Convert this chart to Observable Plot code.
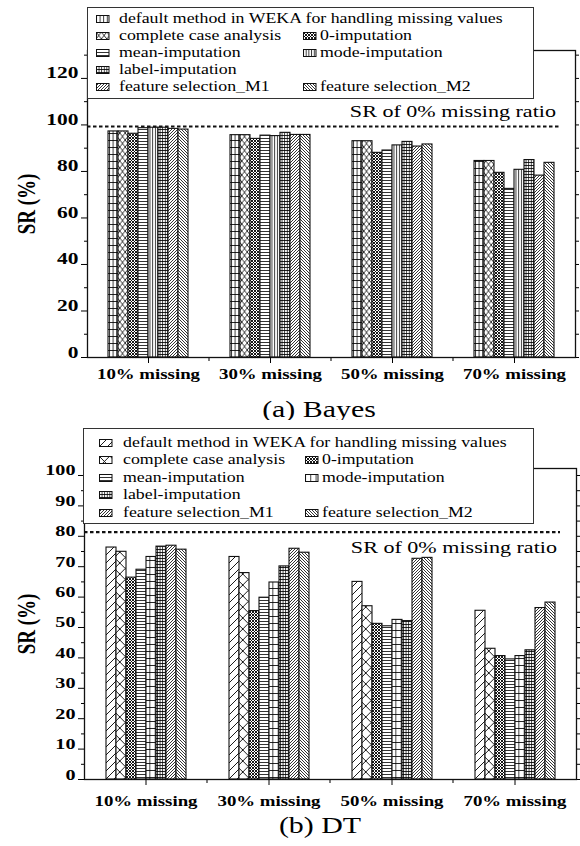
<!DOCTYPE html>
<html>
<head>
<meta charset="utf-8">
<script src="https://cdn.jsdelivr.net/npm/d3@7"></script>
<script src="https://cdn.jsdelivr.net/npm/@observablehq/plot@0.6"></script>
<style>
  body { margin: 0; background: #fff; }
  #page { position: relative; width: 580px; height: 846px; background: #fff; overflow: hidden;
          font-family: "Liberation Serif", "Times New Roman", serif; color: #000; }
  #page svg text { font-family: "Liberation Serif", "Times New Roman", serif; }
  .chart { position: absolute; left: 0; }
  .legend { position: absolute; background: #fff; border: 1.3px solid #333; box-sizing: border-box;
            font-size: 13.7px; line-height: 17.2px; }
  .legend .item { position: absolute; white-space: nowrap; transform: scaleX(1.3); transform-origin: 0 50%; }
  .legend svg { position: absolute; }
  .caption { position: absolute; font-size: 23px; line-height: 26px; white-space: nowrap;
             transform: translateX(-50%) scaleX(1.3); }
</style>
</head>
<body>
<div id="page">
  <svg id="patterns" width="0" height="0" style="position:absolute"><defs></defs></svg>
  <div id="bayes" class="chart" style="top:0px"></div>
  <div id="bayes-legend" class="legend" style="left:87px;top:7px;width:447px;height:92px"></div>
  <div class="caption" style="left:319px;top:397px">(a) Bayes</div>
  <div id="dt" class="chart" style="top:420px"></div>
  <div id="dt-legend" class="legend" style="left:83px;top:428px;width:451px;height:96px"></div>
  <div class="caption" style="left:320px;top:813px">(b) DT</div>
</div>
<script>
// Missing-value ratios (groups on the x axis)
const categories = ["10% missing", "30% missing", "50% missing", "70% missing"];

// Methods compared in every group (bar order)
const methods = [
  "default method in WEKA for handling missing values",
  "complete case analysis",
  "0-imputation",
  "mean-imputation",
  "mode-imputation",
  "label-imputation",
  "feature selection_M1",
  "feature selection_M2"
];

// SR (%) with the Bayes classifier, one row per missing ratio, in method order
const bayesSR = [
  [97.2, 97.2, 96.2, 98.6, 98.8, 98.8, 98.3, 98.0],
  [95.6, 95.6, 94.0, 95.4, 95.2, 96.6, 95.7, 95.7],
  [93.0, 93.0, 88.0, 89.0, 91.2, 92.7, 90.7, 91.6],
  [84.5, 84.5, 79.4, 72.5, 80.7, 84.9, 78.2, 83.7]
];

// SR (%) with the decision tree, one row per missing ratio, in method order
const dtSR = [
  [76.3, 74.9, 66.4, 69.0, 73.2, 76.6, 76.9, 75.6],
  [73.2, 67.9, 55.4, 59.8, 64.8, 70.1, 75.9, 74.6],
  [65.0, 57.0, 51.2, 50.4, 52.5, 52.1, 72.6, 72.9],
  [55.5, 43.0, 40.6, 39.5, 40.6, 42.5, 56.4, 58.2]
];

// SR with no missing values (reference line)
const bayesBaseline = 99.1;
const dtBaseline = 81.2;
const baselineLabel = "SR of 0% missing ratio";
const yTitle = "SR (%)";

// Axis ticks
const bayesMajorTicks = [0, 20, 40, 60, 80, 100, 120];
const bayesMinorTicks = [10, 30, 50, 70, 90, 110, 130];
const dtMajorTicks = [0, 10, 20, 30, 40, 50, 60, 70, 80, 90, 100];
const dtMinorTicks = [5, 15, 25, 35, 45, 55, 65, 75, 85, 95];

// ---- hatch patterns used as bar fills ----
const patternDefs = [
  // id, tile width, tile height, path, stroke width
  ["grid-a", 3.6, 7, "M0,0.5H3.6M0.5,0V7", 0.8],
  ["grid-b", 5.3, 7, "M0,0.5H5.3M0.5,0V7", 0.8],
  ["fine-grid", 2.6, 3, "M0,0.5H2.6M0.5,0V3", 0.8],
  ["cross", 5.4, 7, "M0,0L5.4,7M5.4,0L0,7", 0.8],
  ["cross-wide", 10.8, 11, "M0,0L10.8,11M10.8,0L0,11", 0.9],
  ["dense-cross", 3, 3, "M0,0L3,3M3,0L0,3", 0.9],
  ["hlines", 4, 3, "M0,0.5H4", 0.8],
  ["vlines", 2.7, 4, "M0.5,0V4", 0.8],
  ["fwd", 3, 3, "M-1,1l2,-2M0,3l3,-3M2,4l2,-2", 0.8],
  ["back", 3, 3, "M-1,2l2,2M0,0l3,3M2,-1l2,2", 0.8],
  ["wide-fwd", 8, 8, "M-1,1l2,-2M0,8l8,-8M7,9l2,-2", 0.9]
];
d3.select("#patterns defs").selectAll("pattern")
  .data(patternDefs)
  .join("pattern")
    .attr("id", d => d[0])
    .attr("patternUnits", "userSpaceOnUse")
    .attr("width", d => d[1])
    .attr("height", d => d[2])
    .call(p => p.append("rect").attr("width", d => d[1]).attr("height", d => d[2]).attr("fill", "white"))
    .call(p => p.append("path").attr("d", d => d[3]).attr("stroke", "black")
      .attr("stroke-width", d => d[4]).attr("fill", "none"));

const bayesFills = ["grid-a", "cross", "dense-cross", "hlines", "vlines", "fine-grid", "fwd", "back"];
const dtFills = ["wide-fwd", "cross-wide", "dense-cross", "hlines", "grid-b", "fine-grid", "fwd", "back"];

const serif = "Liberation Serif, Times New Roman, serif";
const textStretch = 1.3; // the figure's lettering is set wide

function tidy(values) {
  return categories.flatMap((category, i) =>
    methods.map((method, j) => ({category, method, value: values[i][j]})));
}

// Drawn once over the facets: dashed reference line with its label,
// and the small ticks on the x axis where two groups meet
function overlayMark(value, labelDy) {
  return Plot.frame({
    facet: "super",
    render(index, scales, values, {width, height, marginLeft, marginRight, marginBottom}) {
      const y = scales.y(value);
      const g = d3.create("svg:g");
      const right = width - marginRight;
      g.append("line")
        .attr("x1", marginLeft).attr("x2", right - 16)
        .attr("y1", y).attr("y2", y)
        .attr("stroke", "#111").attr("stroke-width", 2.2).attr("stroke-dasharray", "3.5,2.5");
      g.append("text")
        .attr("x", right - 19).attr("y", y + labelDy)
        .attr("dy", "0.32em").attr("text-anchor", "end")
        .attr("font-size", 17).attr("fill", "#000")
        .text(baselineLabel);
      const base = height - marginBottom;
      for (const c of categories.slice(1)) {
        const xm = scales.fx(c);
        g.append("line").attr("x1", xm).attr("x2", xm).attr("y1", base).attr("y2", base + 4)
          .attr("stroke", "#111").attr("stroke-width", 1.1);
      }
      return g.node();
    }
  });
}

function stretchText(svg, k) {
  d3.select(svg).selectAll("text").each(function () {
    const t = d3.select(this);
    const x = +t.attr("x") || 0, y = +t.attr("y") || 0;
    const tr = t.attr("transform") || "";
    const s = /rotate\(\s*-?90/.test(tr) ? `scale(1,${k})` : `scale(${k},1)`;
    t.attr("transform", `${tr} translate(${x},${y}) ${s}`).attr("x", null).attr("y", null);
  });
  return svg;
}

function chart({values, fills, baseline, domain, majorTicks, minorTicks,
                marginLeft, marginTop, marginBottom, height, labelDy, tickPadding, fontSize, titleSize, labelOffset}) {
  const svg = Plot.plot({
    width: 580,
    height,
    marginLeft,
    marginRight: 4,
    marginTop,
    marginBottom,
    style: {fontFamily: serif, background: "white", overflow: "visible"},
    fx: {domain: categories, padding: 0, label: null},
    x: {domain: methods, padding: 0, insetLeft: 18.3, insetRight: 18.3, axis: null},
    y: {domain, label: null},
    color: {domain: methods, range: fills.map(id => `url(#${id})`)},
    marks: [
      Plot.barY(tidy(values), {
        fx: "category", x: "method", y: "value", fill: "method",
        stroke: "#111", strokeWidth: 1.1
      }),
      overlayMark(baseline, labelDy),
      Plot.frame({stroke: "#111", strokeWidth: 1.3, facet: "super"}),
      Plot.axisY({
        ticks: majorTicks, tickSize: 6, tickPadding: 3, tickFormat: d => `${d}`,
        fontSize, fontWeight: "bold", label: null
      }),
      Plot.axisY({
        ticks: [], tickSize: 0, fontSize: titleSize, fontWeight: "bold",
        label: yTitle, labelAnchor: "center", labelOffset, labelArrow: "none"
      }),
      Plot.axisY({ticks: minorTicks, tickSize: 3, tickFormat: () => "", label: null}),
      Plot.axisY({anchor: "right", ticks: [...majorTicks, ...minorTicks], tickSize: 3, tickFormat: () => "", label: null}),
      Plot.axisFx({
        anchor: "bottom", tickSize: 6, tickPadding, fontSize: 14.5, fontWeight: "bold", label: null
      })
    ]
  });
  // lettering of the y axis: bold serif, tick values and title at their own sizes
  const tickText = new Set(majorTicks.map(String));
  d3.select(svg).selectAll("text").each(function () {
    const content = this.textContent;
    if (tickText.has(content)) d3.select(this).style("font-size", `${fontSize}px`).style("font-weight", "bold");
    else if (content === yTitle) d3.select(this).style("font-size", `${titleSize}px`).style("font-weight", "bold");
  });
  return stretchText(svg, textStretch);
}

const bayesChart = chart({
  values: bayesSR, fills: bayesFills, baseline: bayesBaseline, domain: [0, 132],
  majorTicks: bayesMajorTicks, minorTicks: bayesMinorTicks,
  marginLeft: 86, marginTop: 50, marginBottom: 35, height: 392, labelDy: -15,
  tickPadding: 15, fontSize: 16.5, titleSize: 19, labelOffset: 53
});
document.getElementById("bayes").append(bayesChart);

const dtChart = chart({
  values: dtSR, fills: dtFills, baseline: dtBaseline, domain: [0, 102.3],
  majorTicks: dtMajorTicks, minorTicks: dtMinorTicks,
  marginLeft: 83, marginTop: 48, marginBottom: 33, height: 392, labelDy: 15,
  tickPadding: 20, fontSize: 15.5, titleSize: 19, labelOffset: 50
});
document.getElementById("dt").append(dtChart);

// Legend boxes: rows of one or two methods
const legendRows = [[0], [1, 2], [3, 4], [5], [6, 7]];
function legend(id, fills, {top, step, swatch1, text1, swatch2, text2}) {
  const box = d3.select(id);
  legendRows.forEach((row, r) => {
    row.forEach((m, c) => {
      const y = top + r * step;
      box.append("svg")
        .attr("width", 14).attr("height", 8)
        .style("left", `${c ? swatch2 : swatch1}px`).style("top", `${y + 5}px`)
        .append("rect").attr("x", 0.5).attr("y", 0.5).attr("width", 12.5).attr("height", 7)
        .attr("fill", `url(#${fills[m]})`).attr("stroke", "#111").attr("stroke-width", 1);
      box.append("div").attr("class", "item")
        .style("left", `${c ? text2 : text1}px`).style("top", `${y}px`)
        .text(methods[m]);
    });
  });
}
legend("#bayes-legend", bayesFills, {top: 1.5, step: 17.2, swatch1: 8, text1: 31, swatch2: 215, text2: 232});
legend("#dt-legend", dtFills, {top: 4.5, step: 17.5, swatch1: 15, text1: 39, swatch2: 221, text2: 238});
</script>
</body>
</html>
